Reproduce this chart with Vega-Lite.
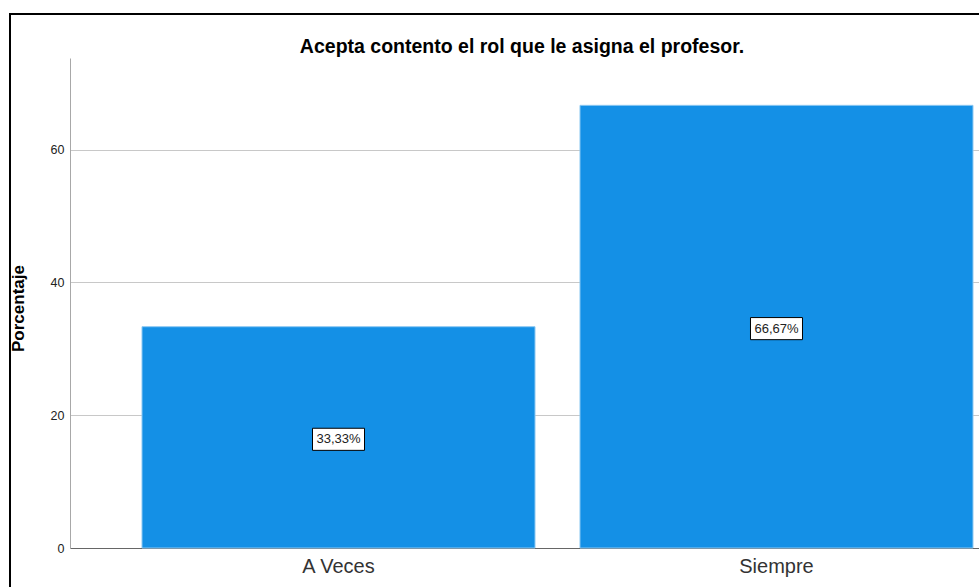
{
  "$schema": "https://vega.github.io/schema/vega-lite/v6.json",
  "width": 1024,
  "height": 600,
  "autosize": {"type": "none"},
  "padding": {"left": 10, "top": 14, "right": -55, "bottom": -27},
  "background": "white",
  "config": {
    "view": {"stroke": "black", "strokeWidth": 2},
    "font": "Liberation Sans"
  },
  "title": {
    "text": "Acepta contento el rol que le asigna el profesor.",
    "font": "Liberation Sans",
    "fontSize": 19.5,
    "fontWeight": "bold",
    "color": "black",
    "anchor": "middle",
    "frame": "group",
    "baseline": "alphabetic",
    "offset": -58
  },
  "data": {
    "values": [
      {"categoria": "A Veces", "porcentaje": 33.33, "etiqueta": "33,33%"},
      {"categoria": "Siempre", "porcentaje": 66.67, "etiqueta": "66,67%"}
    ]
  },
  "transform": [{"calculate": "datum.porcentaje / 2", "as": "medio"}],
  "encoding": {
    "x": {
      "field": "categoria",
      "type": "nominal",
      "sort": null,
      "scale": {"type": "band", "range": [60, 1035], "paddingInner": 0.1027, "paddingOuter": 0.1644},
      "axis": {
        "title": null,
        "orient": "bottom",
        "offset": -66,
        "ticks": false,
        "tickSize": 0,
        "grid": false,
        "domainColor": "#666666",
        "domainWidth": 1,
        "labelFont": "Liberation Sans",
        "labelFontSize": 20,
        "labelColor": "#333333",
        "labelPadding": 8,
        "labelAngle": 0
      }
    }
  },
  "layer": [
    {
      "mark": {"type": "bar", "color": "#1490E6", "stroke": "#8cc8f2", "strokeWidth": 1},
      "encoding": {
        "y": {
          "field": "porcentaje",
          "type": "quantitative",
          "scale": {"domain": [0, 73.8], "range": [534, 44], "nice": false, "zero": true},
          "axis": {
            "title": "Porcentaje",
            "titleFont": "Liberation Sans",
            "titleFontSize": 17,
            "titleFontWeight": "bold",
            "titleColor": "black",
            "titlePadding": 23,
            "titleY": 294,
            "orient": "left",
            "offset": -60,
            "values": [0, 20, 40, 60],
            "ticks": false,
            "tickSize": 0,
            "grid": true,
            "gridColor": "#c8c8c8",
            "gridWidth": 1,
            "domainColor": "#a8a8a8",
            "domainWidth": 1,
            "labelFont": "Liberation Sans",
            "labelFontSize": 12.5,
            "labelColor": "#222222",
            "labelPadding": 6
          }
        }
      }
    },
    {
      "mark": {
        "type": "point",
        "shape": "M-1,-0.35L1,-0.35L1,0.5L-1,0.5Z",
        "size": 2704,
        "filled": true,
        "fill": "white",
        "stroke": "black",
        "strokeWidth": 1,
        "opacity": 1
      },
      "encoding": {
        "y": {"field": "medio", "type": "quantitative"}
      }
    },
    {
      "mark": {"type": "text", "font": "Liberation Sans", "fontSize": 13, "color": "#222222", "baseline": "middle", "dy": 2},
      "encoding": {
        "y": {"field": "medio", "type": "quantitative"},
        "text": {"field": "etiqueta", "type": "nominal"}
      }
    }
  ]
}
